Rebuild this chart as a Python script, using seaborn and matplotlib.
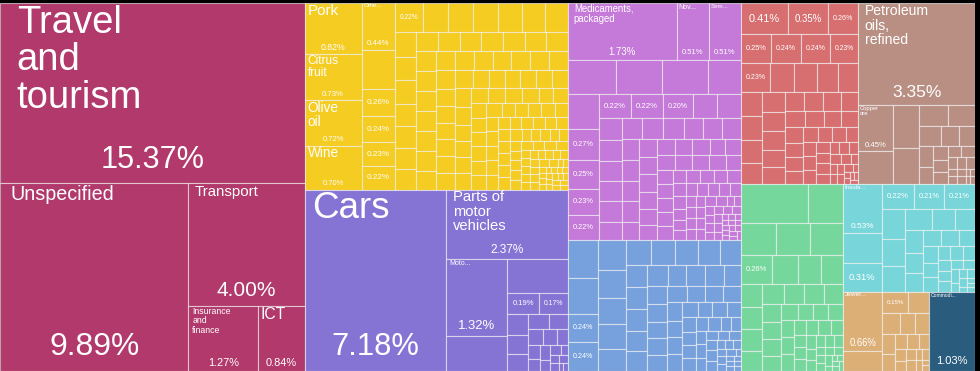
import matplotlib
matplotlib.use("Agg")
import matplotlib.pyplot as plt
from matplotlib.patches import Rectangle
import seaborn as sns
import pandas as pd

# Styling
sns.set_theme(style="white")
plt.rcParams['font.family'] = ['Liberation Sans', 'DejaVu Sans']

# ---------------------------------------------------------------
# Data: export shares (%) per product, grouped by sector
# ---------------------------------------------------------------
sectors = ["Services", "Agriculture", "Vehicles", "Chemicals", "Machinery",
           "Metals", "Minerals", "Textiles", "Electronics", "Stone", "Other"]

services = [15.37, 9.89, 4.00, 1.27, 0.84]
services_labels = ["Travel\nand\ntourism", "Unspecified", "Transport", "Insurance\nand\nfinance", "ICT"]

agriculture = [0.82, 0.73, 0.72, 0.70, 0.44, 0.37, 0.26, 0.24, 0.23, 0.22,
               0.22, 0.20, 0.20, 0.20, 0.19, 0.19, 0.18,
               0.15, 0.14, 0.14, 0.13, 0.13, 0.13, 0.12, 0.12,
               0.12, 0.12, 0.12, 0.12, 0.12, 0.12,
               0.11, 0.11, 0.11, 0.11, 0.11, 0.11,
               0.10, 0.10, 0.10, 0.10, 0.10, 0.10, 0.10, 0.10, 0.10,
               0.09, 0.09, 0.09, 0.09, 0.09, 0.09, 0.09,
               0.08, 0.08, 0.08, 0.08, 0.08, 0.08, 0.08, 0.08,
               0.07, 0.07, 0.07, 0.07, 0.07, 0.07, 0.07, 0.07,
               0.06, 0.06, 0.06, 0.06, 0.06, 0.06, 0.06, 0.06, 0.06,
               0.05, 0.05, 0.05, 0.05, 0.05, 0.05, 0.05, 0.05, 0.05, 0.05,
               0.04, 0.04, 0.04, 0.04, 0.04, 0.04, 0.04, 0.04, 0.04, 0.04, 0.04, 0.04,
               0.03, 0.03, 0.03, 0.03, 0.03, 0.03, 0.03, 0.03, 0.03, 0.03, 0.03, 0.03, 0.03, 0.03,
               0.02, 0.02, 0.02, 0.02, 0.02, 0.02, 0.02, 0.02, 0.02, 0.02, 0.02, 0.02, 0.02, 0.02, 0.02, 0.02,
               0.01, 0.01, 0.01, 0.01, 0.01, 0.01, 0.01, 0.01, 0.01, 0.01,
               0.01, 0.01, 0.01, 0.01, 0.01, 0.01, 0.01, 0.01, 0.01, 0.01]
agriculture_labels = ["Pork", "Citrus\nfruit", "Olive\noil", "Wine", "Othe...", "", "%", "%", "%", "%", "%"]

vehicles = [7.18, 2.37, 1.32, 0.60, 0.57, 0.19, 0.17, 0.12, 0.11, 0.10, 0.09, 0.08, 0.07,
            0.06, 0.05, 0.05, 0.04, 0.04, 0.03, 0.03, 0.02, 0.02, 0.02, 0.02, 0.01, 0.01]
vehicles_labels = ["Cars", "Parts of\nmotor\nvehicles", "Moto...", "", "", "%", "%"]

chemicals = [1.73, 0.51, 0.51, 0.46, 0.44, 0.44, 0.32, 0.30, 0.27, 0.25, 0.23, 0.22, 0.22, 0.22, 0.20, 0.17, 0.16,
             0.14, 0.13, 0.13, 0.13, 0.13, 0.12, 0.12, 0.12, 0.12, 0.11, 0.11, 0.11, 0.10, 0.10, 0.10, 0.10,
             0.09, 0.09, 0.09, 0.09, 0.09, 0.08, 0.08, 0.08, 0.08, 0.08, 0.07, 0.07, 0.07, 0.07, 0.07, 0.07,
             0.06, 0.06, 0.06, 0.06, 0.06, 0.06, 0.05, 0.05, 0.05, 0.05, 0.05, 0.05, 0.05,
             0.04, 0.04, 0.04, 0.04, 0.04, 0.04, 0.04, 0.04,
             0.03, 0.03, 0.03, 0.03, 0.03, 0.03, 0.03, 0.03, 0.03, 0.03,
             0.02, 0.02, 0.02, 0.02, 0.02, 0.02, 0.02, 0.02, 0.02, 0.02, 0.02, 0.02,
             0.01, 0.01, 0.01, 0.01, 0.01, 0.01, 0.01, 0.01, 0.01, 0.01, 0.01, 0.01, 0.01, 0.01]
chemicals_labels = ["Medicaments,\npackaged", "Nov...", "Sem...", "", "", "", "", "",
                    "%", "%", "%", "%", "%", "%", "%"]

machinery = [0.31, 0.30, 0.24, 0.24, 0.23, 0.22, 0.21, 0.20, 0.17, 0.17, 0.16, 0.16, 0.15, 0.14,
             0.13, 0.13, 0.13, 0.12, 0.12, 0.12, 0.11, 0.11, 0.11, 0.10, 0.10, 0.10,
             0.09, 0.09, 0.09, 0.09, 0.08, 0.08, 0.08, 0.08, 0.07, 0.07, 0.07, 0.07,
             0.06, 0.06, 0.06, 0.06, 0.05, 0.05, 0.05, 0.05, 0.05, 0.04, 0.04, 0.04, 0.04, 0.04,
             0.03, 0.03, 0.03, 0.03, 0.03, 0.03, 0.02, 0.02, 0.02, 0.02, 0.02, 0.02, 0.02,
             0.01, 0.01, 0.01, 0.01, 0.01, 0.01, 0.01]
machinery_labels = ["", "", "%", "%"]

metals = [0.41, 0.35, 0.26, 0.25, 0.24, 0.24, 0.23, 0.23, 0.19, 0.18, 0.17, 0.16, 0.15, 0.14, 0.14,
          0.13, 0.13, 0.12, 0.12, 0.11, 0.11, 0.10, 0.10, 0.10, 0.09, 0.09, 0.09, 0.08, 0.08, 0.08,
          0.07, 0.07, 0.07, 0.06, 0.06, 0.06, 0.05, 0.05, 0.05, 0.05, 0.04, 0.04, 0.04, 0.04,
          0.03, 0.03, 0.03, 0.03, 0.03, 0.02, 0.02, 0.02, 0.02, 0.02, 0.02,
          0.01, 0.01, 0.01, 0.01, 0.01, 0.01]
metals_labels = ["%", "%", "%", "%", "%", "%", "%", "%"]

minerals = [3.35, 0.45, 0.33, 0.30, 0.26, 0.17, 0.16, 0.12, 0.10, 0.09, 0.08, 0.07, 0.06, 0.05,
            0.05, 0.04, 0.04, 0.03, 0.03, 0.03, 0.02, 0.02, 0.02, 0.02, 0.01, 0.01, 0.01, 0.01]
minerals_labels = ["Petroleum\noils,\nrefined", "Copper\nore"]

textiles = [0.72, 0.38, 0.31, 0.30, 0.29, 0.26, 0.21, 0.19, 0.18, 0.14, 0.13, 0.13, 0.12, 0.12,
            0.11, 0.11, 0.10, 0.10, 0.09, 0.09, 0.08, 0.08, 0.07, 0.07, 0.07, 0.06, 0.06, 0.06,
            0.05, 0.05, 0.05, 0.05, 0.04, 0.04, 0.04, 0.04, 0.03, 0.03, 0.03, 0.03, 0.03,
            0.02, 0.02, 0.02, 0.02, 0.02, 0.02, 0.01, 0.01, 0.01, 0.01, 0.01, 0.01]
textiles_labels = ["", "", "", "", "", "%"]

electronics = [0.53, 0.33, 0.31, 0.22, 0.21, 0.21, 0.20, 0.18, 0.17, 0.16, 0.14, 0.12, 0.11, 0.10,
               0.09, 0.08, 0.08, 0.07, 0.07, 0.06, 0.06, 0.05, 0.05, 0.05, 0.04, 0.04, 0.04,
               0.03, 0.03, 0.03, 0.02, 0.02, 0.02, 0.02, 0.01, 0.01, 0.01, 0.01]
electronics_labels = ["Insula...", "", "%", "%", "%", "%"]

stone = [0.66, 0.22, 0.15, 0.12, 0.10, 0.09, 0.08, 0.07, 0.06, 0.05, 0.05, 0.04, 0.04,
         0.03, 0.03, 0.03, 0.02, 0.02, 0.02, 0.01, 0.01]
stone_labels = ["Jewel...", "", "%"]

other = [1.03]
other_labels = ["Commodi..."]

sector_colors = ["#B1396B", "#F4CC22", "#8674D5", "#C579D8", "#77A1DC",
                 "#D76F70", "#B98F84", "#76D79D", "#78D6DA", "#DCAF77", "#2A5D7D"]

groups = [services, agriculture, vehicles, chemicals, machinery, metals,
          minerals, textiles, electronics, stone, other]
group_labels = [services_labels, agriculture_labels, vehicles_labels, chemicals_labels,
                machinery_labels, metals_labels, minerals_labels, textiles_labels,
                electronics_labels, stone_labels, other_labels]

palette = sns.color_palette(sector_colors)
totals = [sum(g) for g in groups]


# ---------------------------------------------------------------
# Squarified treemap layout (Bruls et al.)
# ---------------------------------------------------------------
def squarify(values, x, y, w, h):
    scale = w * h / sum(values)
    areas = [v * scale for v in values]

    def worst(row, side):
        s = sum(row)
        return max(max(side * side * r / (s * s), s * s / (side * side * r)) for r in row)

    rects = []
    i = 0
    while i < len(areas):
        side = min(w, h)
        row = [areas[i]]
        j = i + 1
        while j < len(areas) and worst(row + [areas[j]], side) <= worst(row, side):
            row.append(areas[j])
            j += 1
        s = sum(row)
        if w >= h:
            cw = s / h
            cy = y
            for a in row:
                ch = a / cw
                rects.append((x, cy, cw, ch))
                cy += ch
            x += cw
            w -= cw
        else:
            rh = s / w
            cx = x
            for a in row:
                rw = a / rh
                rects.append((cx, y, rw, rh))
                cx += rw
            y += rh
            h -= rh
        i = j
    return rects


# ---------------------------------------------------------------
# Figure (1 data unit = 1 pixel)
# ---------------------------------------------------------------
W, H = 975, 368
fig = plt.figure(figsize=(9.8, 3.71), dpi=100, facecolor="black")
ax = fig.add_axes([0, 0, W / 980, H / 371])
ax.set_xlim(0, W)
ax.set_ylim(H, 0)
ax.axis("off")
renderer = fig.canvas.get_renderer()
PT = 72 / 100  # px -> pt


def text_width(s, size):
    t = ax.text(0, 0, s, fontsize=size)
    bb = t.get_window_extent(renderer=renderer)
    t.remove()
    return bb.width


rows = []
sector_rects = squarify(totals, 0, 0, W, H)
for sector, vals, labs, col, srect in zip(sectors, groups, group_labels, palette, sector_rects):
    for k, (v, r) in enumerate(zip(vals, squarify(vals, *srect))):
        rows.append(dict(sector=sector, value=v, label=labs[k] if k < len(labs) else "",
                         color=col, x=r[0], y=r[1], w=r[2], h=r[3]))
leaves = pd.DataFrame(rows)

for _, c in leaves.iterrows():
    ax.add_patch(Rectangle((c.x, c.y), c.w, c.h, facecolor=c.color,
                           edgecolor=(1, 1, 1, 0.6), linewidth=0.8))

# Labels
for _, c in leaves.iterrows():
    if c.label == "":
        continue
    pct = f"{c.value:.2f}%"
    if c.label == "%":
        fs = min(0.24 * c.w, 0.37 * c.h, 11)
        ax.text(c.x + c.w / 2, c.y + c.h / 2, pct, ha="center", va="center",
                fontsize=fs * PT, color="white")
        continue
    lines = c.label.split("\n")
    ref = max(text_width(l, 10) for l in lines)
    fs_name = min(10 * 0.55 * c.w / ref, 0.7 * c.h / (len(lines) * 1.1) * PT, 28)
    if c.label.endswith("..."):
        fs_name = min(fs_name, 5)
    ax.text(c.x + 0.055 * c.w, c.y + 0.01 * c.h, c.label, ha="left", va="top",
            fontsize=fs_name, color="white", linespacing=1.05)
    fs = min(0.24 * c.w, 0.17 * c.h, 36)
    ax.text(c.x + c.w / 2, c.y + c.h - max(0.13 * c.h, 0.6 * fs), pct,
            ha="center", va="center", fontsize=fs * PT, color="white")

fig.savefig("out.png", dpi=100, facecolor="black")
